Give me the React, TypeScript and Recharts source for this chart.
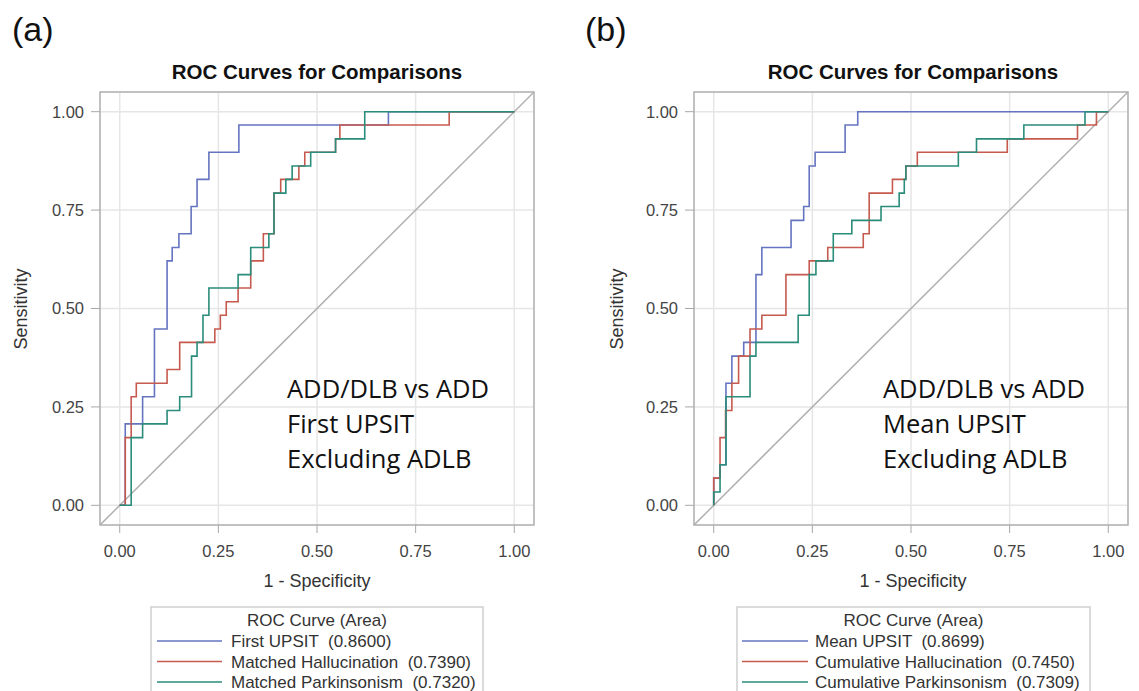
import React from "react";
import {
  LineChart,
  Line,
  XAxis,
  YAxis,
  CartesianGrid,
  ReferenceLine,
  ReferenceArea,
} from "recharts";

// ---------- data ----------
const axisTicks = [0, 0.25, 0.5, 0.75, 1];

// Panel (a)
const aTitle = "ROC Curves for Comparisons";
const aNames = ["First UPSIT", "Matched Hallucination", "Matched Parkinsonism"];
const aAUC = ["0.8600", "0.7390", "0.7320"];
const aNote = ["ADD/DLB vs ADD", "First UPSIT", "Excluding ADLB"];

const aFirstUpsitX = [0, 0.014, 0.058, 0.088, 0.12, 0.133, 0.15, 0.181, 0.196, 0.226, 0.302, 0.681, 1];
const aFirstUpsitY = [0, 0.207, 0.276, 0.448, 0.621, 0.655, 0.69, 0.759, 0.828, 0.897, 0.966, 1, 1];

const aHallX = [0, 0.014, 0.029, 0.042, 0.12, 0.152, 0.241, 0.255, 0.27, 0.3, 0.332, 0.364, 0.391, 0.408, 0.454, 0.469, 0.547, 0.558, 0.835, 1];
const aHallY = [0, 0.172, 0.276, 0.31, 0.345, 0.414, 0.448, 0.483, 0.517, 0.552, 0.621, 0.69, 0.793, 0.828, 0.862, 0.897, 0.931, 0.966, 1, 1];

const aParkX = [0, 0.029, 0.058, 0.12, 0.152, 0.182, 0.196, 0.211, 0.226, 0.3, 0.332, 0.378, 0.391, 0.421, 0.437, 0.484, 0.547, 0.621, 1];
const aParkY = [0, 0.172, 0.207, 0.241, 0.276, 0.379, 0.414, 0.483, 0.552, 0.586, 0.655, 0.69, 0.793, 0.828, 0.862, 0.897, 0.931, 1, 1];

// Panel (b)
const bTitle = "ROC Curves for Comparisons";
const bNames = ["Mean UPSIT", "Cumulative Hallucination", "Cumulative Parkinsonism"];
const bAUC = ["0.8699", "0.7450", "0.7309"];
const bNote = ["ADD/DLB vs ADD", "Mean UPSIT", "Excluding ADLB"];

const bMeanUpsitX = [0, 0, 0.016, 0.031, 0.046, 0.076, 0.107, 0.122, 0.196, 0.228, 0.242, 0.257, 0.333, 0.365, 1];
const bMeanUpsitY = [0, 0.069, 0.103, 0.31, 0.379, 0.414, 0.586, 0.655, 0.724, 0.759, 0.862, 0.897, 0.966, 1, 1];

const bHallX = [0, 0, 0.016, 0.03, 0.046, 0.063, 0.092, 0.122, 0.183, 0.242, 0.289, 0.379, 0.394, 0.453, 0.487, 0.516, 0.744, 0.922, 0.97, 1];
const bHallY = [0, 0.069, 0.172, 0.241, 0.31, 0.379, 0.448, 0.483, 0.586, 0.621, 0.655, 0.69, 0.793, 0.828, 0.862, 0.897, 0.931, 0.966, 1, 1];

const bParkX = [0, 0, 0.016, 0.031, 0.092, 0.107, 0.214, 0.242, 0.259, 0.303, 0.35, 0.424, 0.47, 0.483, 0.487, 0.62, 0.666, 0.786, 0.941, 1];
const bParkY = [0, 0.034, 0.103, 0.276, 0.379, 0.414, 0.483, 0.586, 0.621, 0.69, 0.724, 0.759, 0.793, 0.828, 0.862, 0.897, 0.931, 0.966, 1, 1];

const seriesColors = ["#6574c0", "#c65a4f", "#2a8c7b"];

// ---------- helpers ----------
const zip = (xs: number[], ys: number[]) => xs.map((x, i) => ({ x, y: ys[i] }));

const TEXT_FONT = '"Liberation Sans", Arial, sans-serif';

type PanelProps = {
  left: number;
  width: number;
  curves: { x: number[]; y: number[] }[];
};

function RocPanel({ left, width, curves }: PanelProps) {
  return (
    <div style={{ position: "absolute", left, top: 0 }}>
      <LineChart
        width={width}
        height={600}
        margin={{ top: 92, right: width - 534, left: 40, bottom: 35 }}
        style={{ fontFamily: TEXT_FONT }}
      >
        <CartesianGrid stroke="#e6e6e6" strokeWidth={1.5} />
        <XAxis
          type="number"
          dataKey="x"
          domain={[-0.05, 1.05]}
          ticks={axisTicks}
          allowDataOverflow
          axisLine={false}
          tickLine={{ stroke: "#a8a8a8" }}
          tickSize={8}
          tickMargin={12}
          height={40}
          tick={{ fill: "#444", fontSize: 16.5 }}
          tickFormatter={(v: number) => v.toFixed(2)}
        />
        <YAxis
          type="number"
          dataKey="y"
          domain={[-0.05, 1.05]}
          ticks={axisTicks}
          allowDataOverflow
          axisLine={false}
          tickLine={{ stroke: "#a8a8a8" }}
          tickSize={9}
          tickMargin={7}
          width={60}
          tick={{ fill: "#444", fontSize: 16.5 }}
          tickFormatter={(v: number) => v.toFixed(2)}
        />
        <ReferenceArea
          x1={-0.05}
          x2={1.05}
          y1={-0.05}
          y2={1.05}
          fill="none"
          fillOpacity={0}
          stroke="#b3b3b3"
          strokeWidth={1.5}
          ifOverflow="visible"
        />
        <ReferenceLine
          segment={[
            { x: -0.05, y: -0.05 },
            { x: 1.05, y: 1.05 },
          ]}
          stroke="#b0b0b0"
          strokeWidth={1.5}
          ifOverflow="visible"
        />
        {curves.map((c, i) => (
          <Line
            key={i}
            data={zip(c.x, c.y)}
            dataKey="y"
            type="stepAfter"
            stroke={seriesColors[i]}
            strokeWidth={1.6}
            dot={false}
            activeDot={false}
            isAnimationActive={false}
          />
        ))}
      </LineChart>
    </div>
  );
}

type OverlayProps = {
  offset: number;
  labelX: number;
  label: string;
  title: string;
  names: string[];
  auc: string[];
  note: string[];
  legendLeft: number;
  legendRight: number;
  lineX1: number;
  lineX2: number;
  textX: number;
};

function PanelText(p: OverlayProps) {
  const cx = p.offset + 317;
  return (
    <g>
      <text x={p.labelX} y={41} fontSize={34} fontFamily={TEXT_FONT} fill="#111">
        {p.label}
      </text>
      <text x={cx} y={79} fontSize={20.5} fontWeight="bold" textAnchor="middle" fontFamily={TEXT_FONT} fill="#111">
        {p.title}
      </text>
      <text
        transform={`translate(${p.offset + 27},309) rotate(-90)`}
        fontSize={18}
        textAnchor="middle"
        fontFamily={TEXT_FONT}
        fill="#333"
      >
        Sensitivity
      </text>
      <text x={cx} y={587} fontSize={18} textAnchor="middle" fontFamily={TEXT_FONT} fill="#333">
        1 - Specificity
      </text>
      {p.note.map((t, i) => (
        <text
          key={i}
          x={p.offset + 287}
          y={398 + i * 35}
          fontSize={25.5}
          fontFamily='"Open Sans", sans-serif'
          fill="#111"
        >
          {t}
        </text>
      ))}
      <rect
        x={p.legendLeft}
        y={607}
        width={p.legendRight - p.legendLeft}
        height={100}
        fill="none"
        stroke="#cfcfcf"
        strokeWidth={1.5}
      />
      <text x={(p.legendLeft + p.legendRight) / 2} y={626} fontSize={17} textAnchor="middle" fontFamily={TEXT_FONT} fill="#333">
        ROC Curve (Area)
      </text>
      {p.names.map((n, i) => (
        <g key={n}>
          <line x1={p.lineX1} x2={p.lineX2} y1={641 + i * 20.5} y2={641 + i * 20.5} stroke={seriesColors[i]} strokeWidth={1.6} />
          <text
            x={p.textX}
            y={647 + i * 20.5}
            fontSize={17}
            fontFamily={TEXT_FONT}
            fill="#333"
            style={{ whiteSpace: "pre" }}
          >
            {`${n}  (${p.auc[i]})`}
          </text>
        </g>
      ))}
    </g>
  );
}

export default function App() {
  return (
    <div
      style={{
        position: "absolute",
        left: 0,
        top: 0,
        width: 1139,
        height: 691,
        overflow: "hidden",
        background: "#fff",
      }}
    >
      <RocPanel
        left={0}
        width={560}
        curves={[
          { x: aFirstUpsitX, y: aFirstUpsitY },
          { x: aHallX, y: aHallY },
          { x: aParkX, y: aParkY },
        ]}
      />
      <RocPanel
        left={594}
        width={545}
        curves={[
          { x: bMeanUpsitX, y: bMeanUpsitY },
          { x: bHallX, y: bHallY },
          { x: bParkX, y: bParkY },
        ]}
      />
      <svg
        width={1139}
        height={691}
        style={{ position: "absolute", left: 0, top: 0, pointerEvents: "none" }}
      >
        <PanelText
          offset={0}
          labelX={12}
          label="(a)"
          title={aTitle}
          names={aNames}
          auc={aAUC}
          note={aNote}
          legendLeft={151}
          legendRight={483}
          lineX1={157}
          lineX2={222}
          textX={231}
        />
        <PanelText
          offset={596}
          labelX={585}
          label="(b)"
          title={bTitle}
          names={bNames}
          auc={bAUC}
          note={bNote}
          legendLeft={737}
          legendRight={1090}
          lineX1={742}
          lineX2={808}
          textX={815}
        />
      </svg>
    </div>
  );
}
